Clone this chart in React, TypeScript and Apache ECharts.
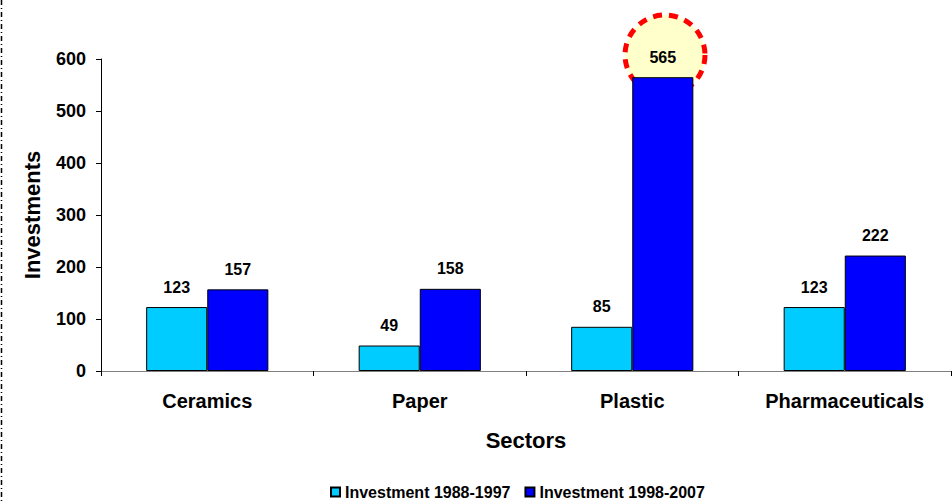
import React, { useEffect, useRef } from "react";
import * as echarts from "echarts";

const categories = ["Ceramics", "Paper", "Plastic", "Pharmaceuticals"];
const invest1988 = [123, 49, 85, 123];
const invest1998 = [157, 158, 565, 222];
const seriesNames = ["Investment 1988-1997", "Investment 1998-2007"];
const yTicks = [0, 100, 200, 300, 400, 500, 600];

const FONT = "'Liberation Sans', Arial, sans-serif";

export default function App() {
  const ref = useRef<HTMLDivElement>(null);
  useEffect(() => {
    document.body.style.margin = "0";
    const chart = echarts.init(ref.current!, null, { renderer: "svg" });
    const labelStyle = {
      show: true,
      position: "top" as const,
      distance: 12,
      fontFamily: FONT,
      fontWeight: "bold" as const,
      fontSize: 16,
      color: "#000",
    };
    chart.setOption({
      animation: false,
      backgroundColor: "#fff",
      textStyle: { fontFamily: FONT },
      grid: { left: 101, right: 1, top: 59, bottom: 130, containLabel: false },
      legend: {
        top: 484,
        left: 330,
        padding: 0,
        itemWidth: 9,
        itemHeight: 9,
        itemGap: 14,
        icon: "rect",
        textStyle: { fontFamily: FONT, fontWeight: "bold", fontSize: 16, color: "#000" },
        data: seriesNames,
      },
      xAxis: {
        type: "category",
        data: categories,
        name: "Sectors",
        nameLocation: "middle",
        nameGap: 58,
        nameTextStyle: { fontFamily: FONT, fontWeight: "bold", fontSize: 22, color: "#000" },
        axisLine: { lineStyle: { color: "#808080", width: 1 } },
        axisTick: { show: true, length: 5, lineStyle: { color: "#000" } },
        axisLabel: { fontFamily: FONT, fontWeight: "bold", fontSize: 20, color: "#000", margin: 20 },
      },
      yAxis: {
        type: "value",
        min: yTicks[0],
        max: yTicks[yTicks.length - 1],
        interval: 100,
        name: "Investments",
        nameLocation: "middle",
        nameGap: 58,
        nameRotate: 90,
        nameTextStyle: { fontFamily: FONT, fontWeight: "bold", fontSize: 22, color: "#000" },
        axisLine: { show: true, lineStyle: { color: "#000", width: 1 } },
        axisTick: { show: true, length: 5, lineStyle: { color: "#000" } },
        splitLine: { show: false },
        axisLabel: { fontFamily: FONT, fontWeight: "bold", fontSize: 18, color: "#000", margin: 15 },
      },
      series: [
        {
          name: seriesNames[0],
          type: "bar",
          data: invest1988,
          barGap: "0%",
          barCategoryGap: "42.5%",
          itemStyle: { color: "#00CCFF", borderColor: "#000", borderWidth: 1 },
          label: labelStyle,
          z: 3,
        },
        {
          name: seriesNames[1],
          type: "bar",
          data: invest1998,
          itemStyle: { color: "#0000FF", borderColor: "#000", borderWidth: 1 },
          label: labelStyle,
          z: 3,
        },
      ],
      graphic: [
        {
          type: "circle",
          shape: { cx: 665, cy: 55, r: 40 },
          style: { fill: "#FFFFCC", stroke: "#FF0000", lineWidth: 5, lineDash: [9, 7] },
          z: 1,
        },
        {
          type: "line",
          shape: { x1: 1.5, y1: 0, x2: 1.5, y2: 501 },
          style: { stroke: "#000", lineWidth: 1.5, lineDash: [5, 3, 1, 3] },
          z: 1,
        },
      ],
    });
    return () => chart.dispose();
  }, []);
  return <div ref={ref} style={{ width: 952, height: 501 }} />;
}
